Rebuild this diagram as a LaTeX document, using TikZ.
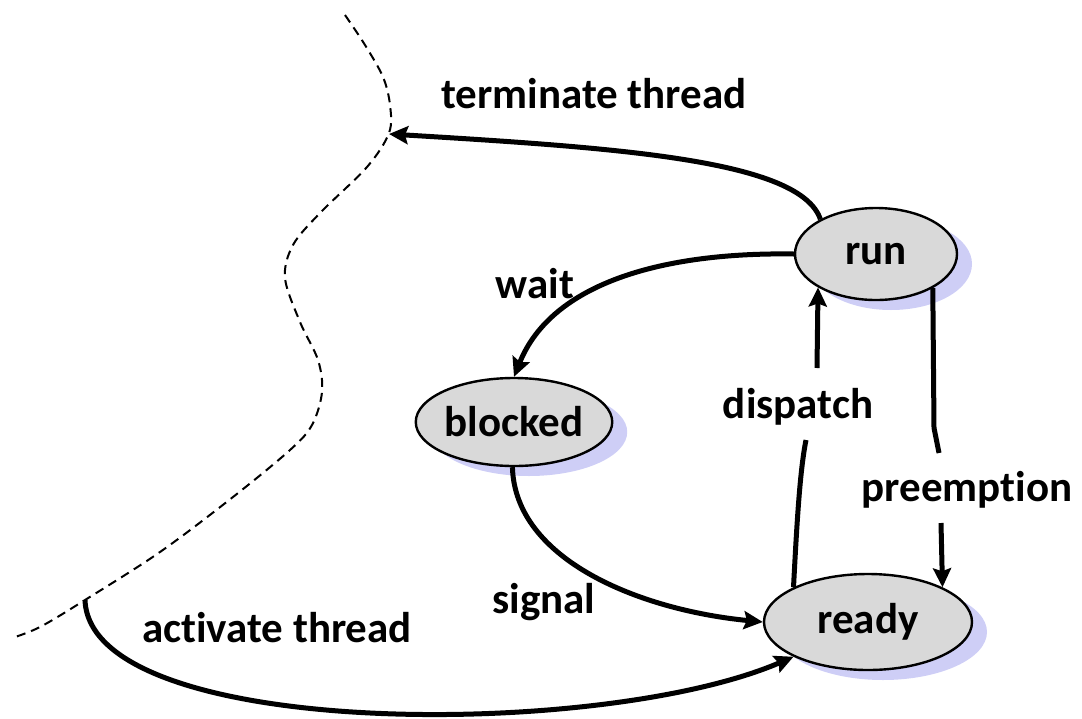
\documentclass[tikz,border=0pt]{standalone}
\usepackage{fontspec}
\setmainfont{Carlito}[Ligatures={NoCommon,NoContextual}]
\usetikzlibrary{shapes.geometric,arrows.meta,shadows,calc}
\definecolor{nodefill}{RGB}{217,217,217}
\definecolor{shadowcol}{RGB}{206,206,246}
\newcommand\nolig{\kern0pt }
\begin{document}
\begin{tikzpicture}[x=1pt,y=-1pt,
  bigfont/.style={font=\fontsize{43}{50}\selectfont\bfseries},
  state/.style={ellipse, draw, line width=2.4pt, fill=nodefill, inner sep=0pt, bigfont,
    drop shadow={shadow xshift=15pt, shadow yshift=-10pt, fill=shadowcol, opacity=1}},
  lbl/.style={anchor=base, inner sep=0pt, bigfont},
  arr/.style={line width=5pt, -{Stealth[length=19pt,width=18pt,inset=3pt]}},
  plain/.style={line width=5pt},
  boundary/.style={line width=2pt, dash pattern=on 9pt off 6pt}]
\useasboundingbox (0,0) rectangle (1082,718);

% dashed boundary
\draw[boundary] plot[smooth, tension=0.55] coordinates {
  (345,15) (365,45) (383,77) (390,105) (389,133) (367,167) (320,213) (293,245)
  (285,278) (300,322) (318,360) (322,392) (312,425) (290,450) (233,497)
  (160,552) (85,600) (40,627) (12,638)};
\coordinate (term) at (389,134);
\coordinate (act) at (85,600);

% states
\node[state, minimum width=162pt, minimum height=92pt] (run) at (876,254) {run};
\node[state, minimum width=160pt, minimum height=88pt] (blocked) at (514,422) {blocked};
\node[state, minimum width=208pt, minimum height=96pt] (ready) at (868,622) {ready};

% labels
\node[lbl] (lterm) at (594,108) {terminate thread};
\node[lbl] (lwait) at (535,298) {wait};
\node[lbl] (ldisp) at (798,418) {dispatch};
\node[lbl] (lpre) at (967,501) {preempt\nolig ion};
\node[lbl] (lsig) at (544,613) {signal};
\node[lbl] (lact) at (277,642) {act\nolig ivate thread};

% helper coordinates for split connectors
\coordinate (dispA) at (806,440);
\coordinate (dispB) at (817,368);
\coordinate (preA) at (934,428);
\coordinate (preB) at (939,453);
\coordinate (preC) at (941,523);

% connectors
\draw[arr] (run.148) .. controls (800,160) and (620,148) .. (term);
\draw[arr] (run.west) .. controls (665,252) and (552,282) .. (blocked.north);
\draw[arr] (blocked.-92) .. controls (515,560) and (640,610) .. (ready.west);
\draw[arr] (act) .. controls (90,740) and (600,740) .. (ready.205);
\draw[plain] (ready.155) .. controls (797,520) and (800,470) .. (dispA);
\draw[arr] (dispB) -- (run.210);
\draw[plain] (run.-31) -- (preA) -- (preB);
\draw[arr] (preC) -- (ready.25);
\end{tikzpicture}
\end{document}
